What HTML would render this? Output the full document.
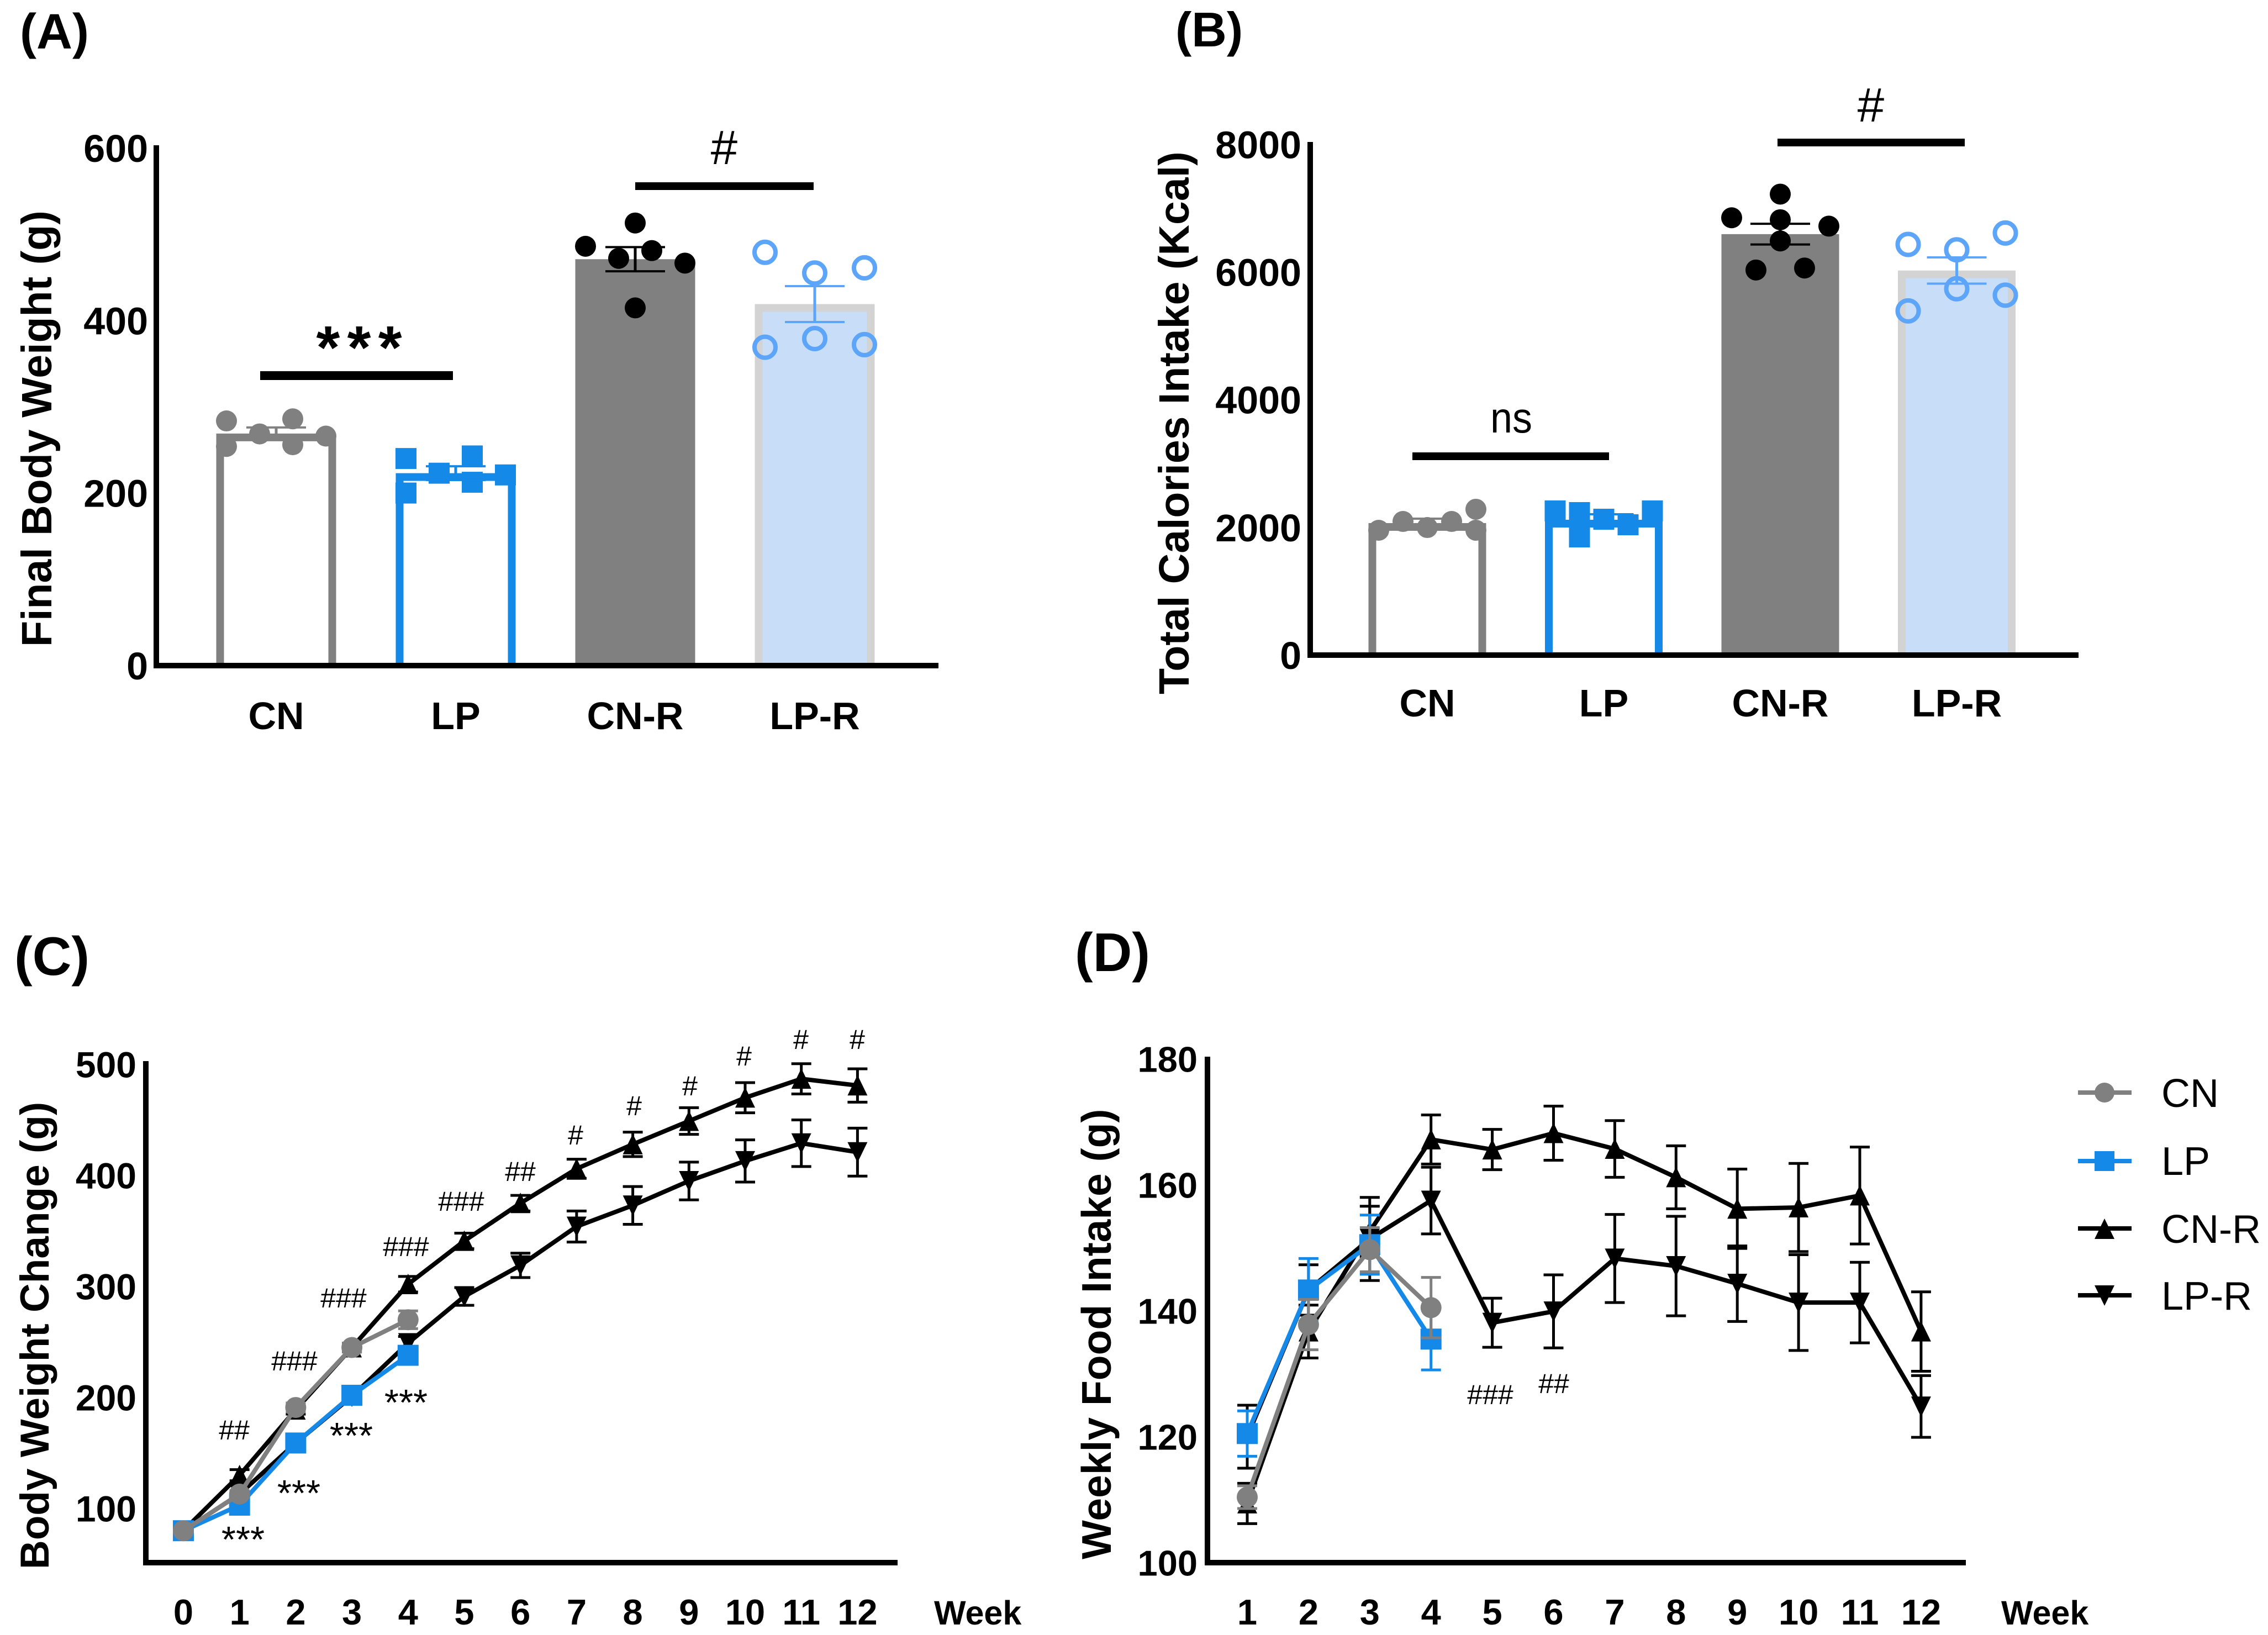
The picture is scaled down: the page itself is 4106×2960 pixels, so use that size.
<!DOCTYPE html>
<html lang="en">
<head>
<meta charset="utf-8">
<title>Body weight and food intake panels</title>
<style>
html,body{margin:0;padding:0;background:#fff;}
svg{display:block;}
text{font-family:"Liberation Sans",Arial,sans-serif;fill:#000;}
.b{font-weight:700;}
</style>
</head>
<body>
<svg id="figure" xmlns="http://www.w3.org/2000/svg" width="4106" height="2960" viewBox="0 0 4106 2960">
<rect x="0" y="0" width="4106" height="2960" fill="#fff"/>

<!-- Panel A static -->
<g id="panelA"></g>
<text class="b" x="36" y="88" font-size="90">(A)</text>
<text class="b" font-size="77" text-anchor="start" transform="translate(93 1171) rotate(-90)">Final Body Weight (g)</text>
<rect x="471" y="672" width="349" height="16" fill="#000"/>
<text class="b" x="650" y="667" font-size="110" text-anchor="middle" textLength="155">***</text>
<rect x="1150" y="330" width="323" height="14" fill="#000"/>
<text x="1311" y="297" font-size="87" text-anchor="middle">#</text>

<!-- Panel B static -->
<g id="panelB"></g>
<text class="b" x="2128" y="84" font-size="88">(B)</text>
<text class="b" font-size="77" text-anchor="start" transform="translate(2152 1257) rotate(-90)">Total Calories Intake (Kcal)</text>
<rect x="2557" y="819" width="356" height="14" fill="#000"/>
<text x="2736" y="783" font-size="78" text-anchor="middle" textLength="76" lengthAdjust="spacingAndGlyphs">ns</text>
<rect x="3218" y="251" width="339" height="14" fill="#000"/>
<text x="3387" y="220" font-size="87" text-anchor="middle">#</text>

<!-- Panel C static -->
<g id="panelC"></g>
<text class="b" x="26" y="1765" font-size="98">(C)</text>
<text class="b" font-size="73" text-anchor="start" transform="translate(88 2841) rotate(-90)">Body Weight Change (g)</text>
<text class="b" x="1691" y="2941" font-size="61">Week</text>
<g font-size="50" text-anchor="middle">
<text x="424" y="2606">##</text><text x="533" y="2481">###</text><text x="622" y="2367">###</text><text x="735" y="2274">###</text><text x="835" y="2192">###</text><text x="942" y="2138">##</text><text x="1042" y="2072">#</text><text x="1148" y="2019">#</text><text x="1249" y="1983">#</text><text x="1347" y="1929">#</text><text x="1450" y="1899">#</text><text x="1552" y="1899">#</text>
</g>
<g font-size="67" text-anchor="middle">
<text x="440" y="2810">***</text><text x="541" y="2726">***</text><text x="636" y="2622">***</text><text x="735" y="2562">***</text>
</g>

<!-- Panel D static -->
<g id="panelD"></g>
<text class="b" x="1946" y="1758" font-size="98">(D)</text>
<text class="b" font-size="75" text-anchor="start" transform="translate(2011 2823) rotate(-90)">Weekly Food Intake (g)</text>
<text class="b" x="3623" y="2941" font-size="61">Week</text>
<g font-size="50" text-anchor="middle">
<text x="2698" y="2542">###</text><text x="2813" y="2522">##</text>
</g>

<!-- Legend -->
<g>
<g>
<line x1="3762" x2="3859" y1="1978" y2="1978" stroke="#808080" stroke-width="8"/>
<circle cx="3810" cy="1978" r="18" fill="#808080"/>
<text x="3913" y="2004" font-size="72">CN</text>
</g>
<g>
<line x1="3762" x2="3859" y1="2102" y2="2102" stroke="#1589e8" stroke-width="8"/>
<rect x="3792" y="2084" width="36" height="36" fill="#1589e8"/>
<text x="3913" y="2127" font-size="72">LP</text>
</g>
<g>
<line x1="3762" x2="3859" y1="2224" y2="2224" stroke="#000" stroke-width="8"/>
<polygon points="3810,2206 3828,2243 3792,2243" fill="#000"/>
<text x="3913" y="2250" font-size="72">CN-R</text>
</g>
<g>
<line x1="3762" x2="3859" y1="2345" y2="2345" stroke="#000" stroke-width="8"/>
<polygon points="3810,2364 3828,2327 3792,2327" fill="#000"/>
<text x="3913" y="2371" font-size="72">LP-R</text>
</g>
</g>
</svg>

<script>
// ---------- Panel A data ----------
const aCategories = ['CN', 'LP', 'CN-R', 'LP-R'];
const aMeans = [269, 223, 471, 419];
const aSems = [7, 8, 14, 20.8];
const aValuesCN = [283.6, 254, 268.5, 286, 256, 266];
const aValuesLP = [240, 200, 223, 243, 212.5, 221];
const aValuesCNR = [486, 472, 513, 481, 466.5, 414.6];
const aValuesLPR = [479, 369, 455, 379, 461, 372];
const aJitterCN = [-3, -3, -1, 1, 1, 3];
const aJitterLP = [-3, -3, -1, 1, 1, 3];
const aJitterCNR = [-3, -1, 0, 1, 3, 0];
const aJitterLPR = [-3, -3, 0, 0, 3, 3];
const aTicks = [0, 200, 400, 600];

// ---------- Panel B data ----------
const bCategories = ['CN', 'LP', 'CN-R', 'LP-R'];
const bMeans = [2067, 2119, 6593, 6023];
const bSems = [70, 87, 162, 205];
const bValuesCN = [1955, 2093, 1998, 2093, 2284, 1955];
const bValuesLP = [2258, 2232, 1851, 2128, 2041, 2258];
const bValuesCNR = [6849, 6031, 7219, 6818, 6486, 6062, 6718];
const bValuesLPR = [6432, 5390, 6347, 5737, 6610, 5637];
const bJitterCN = [-2, -1, 0, 1, 2, 2];
const bJitterLP = [-2, -1, -1, 0, 1, 2];
const bJitterCNR = [-2, -1, 0, 0, 0, 1, 2];
const bJitterLPR = [-2, -2, 0, 0, 2, 2];
const bTicks = [0, 2000, 4000, 6000, 8000];

// ---------- Panel C data ----------
const cWeeks = [0, 1, 2, 3, 4, 5, 6, 7, 8, 9, 10, 11, 12];
const cTicks = [100, 200, 300, 400, 500];
const cCNRValues = [80, 130, 189, 245, 302, 341, 375, 406, 428, 449, 470, 487, 481];
const cCNRErrors = [2, 5, 4, 4, 7, 7, 7, 8.6, 11, 12, 13.6, 13.6, 15];
const cLPRValues = [80, 113, 159, 201, 249, 291, 319, 354, 373, 395, 413, 429, 421];
const cLPRErrors = [2, 3, 3, 5, 6, 8, 11, 14, 17, 17, 19, 21, 21.6];
const cCNWeeks = [0, 1, 2, 3, 4];
const cCNValues = [80, 113, 191, 245, 270];
const cCNErrors = [2, 3, 4, 4, 8];
const cLPWeeks = [0, 1, 2, 3, 4];
const cLPValues = [80, 103, 159, 202, 238];
const cLPErrors = [2, 3, 3, 4, 5];

// ---------- Panel D data ----------
const dWeeks = [1, 2, 3, 4, 5, 6, 7, 8, 9, 10, 11, 12];
const dTicks = [100, 120, 140, 160, 180];
const dCNRValues = [109.4, 136.7, 152.6, 167.2, 165.6, 168.2, 165.7, 161.2, 156.2, 156.4, 158.3, 136.7];
const dCNRErrors = [3.2, 4.2, 4, 3.9, 3.2, 4.3, 4.5, 5, 6.3, 7, 7.7, 6.3];
const dLPRValues = [120, 143.3, 151.4, 157.5, 138.1, 139.9, 148.3, 147.1, 144.3, 141.3, 141.3, 124.8];
const dLPRErrors = [5, 4, 6.6, 5.3, 3.9, 5.8, 7, 7.9, 6, 7.6, 6.4, 4.9];
const dCNWeeks = [1, 2, 3, 4];
const dCNValues = [110.4, 137.8, 149.7, 140.5];
const dCNErrors = [1.8, 4, 3.5, 4.8];
const dLPWeeks = [1, 2, 3, 4];
const dLPValues = [120.5, 143.3, 150.5, 135.5];
const dLPErrors = [3.6, 5, 4.7, 4.9];

const NS = 'http://www.w3.org/2000/svg';
const GRAY = '#808080', BLUE = '#1589e8', BLACK = '#000000', HOLLOW = '#5ca5f8', LIGHT = '#c8ddf7', EDGE = '#d3d3d3';

function make(parent, tag, attrs, content) {
  const el = document.createElementNS(NS, tag);
  for (const k in attrs) el.setAttribute(k, attrs[k]);
  if (content !== undefined) el.textContent = content;
  parent.appendChild(el);
  return el;
}

function drawAxes(g, ax) {
  const yAxis = make(g, 'rect', {x: ax.x0 - 5, y: ax.top, width: 10, height: ax.y0 - ax.top + 5, fill: BLACK});
  
  
  const xAxis = make(g, 'rect', {x: ax.x0 - 5, y: ax.y0 - 5, width: ax.right - ax.x0 + 5, height: 10, fill: BLACK});
  
  
}

function drawYTicks(g, ticks, yFn, right, size) {
  ticks.forEach(function (t) {
    const label = make(g, 'text', {x: right, y: yFn(t) + size * 0.358, 'font-size': size, 'font-weight': 700, 'text-anchor': 'end'}, String(t));
    
    
  });
}

function drawError(g, x, yHi, yLo, color, half, capWidth) {
  const stem = make(g, 'line', {x1: x, x2: x, y1: yHi, y2: yLo, stroke: color, 'stroke-width': 5});
  
  
  const capTop = make(g, 'line', {x1: x - half, x2: x + half, y1: yHi, y2: yHi, stroke: color, 'stroke-width': capWidth});
  
  
  const capBottom = make(g, 'line', {x1: x - half, x2: x + half, y1: yLo, y2: yLo, stroke: color, 'stroke-width': capWidth});
  
  
}

function drawMarker(g, kind, x, y, color) {
  let m;
  if (kind === 'circle') {
    m = make(g, 'circle', {cx: x, cy: y, r: 19, fill: color});
  } else if (kind === 'square') {
    m = make(g, 'rect', {x: x - 19, y: y - 19, width: 38, height: 38, fill: color});
  } else if (kind === 'up') {
    m = make(g, 'polygon', {points: x + ',' + (y - 19) + ' ' + (x + 18) + ',' + (y + 18) + ' ' + (x - 18) + ',' + (y + 18), fill: color});
  } else {
    m = make(g, 'polygon', {points: x + ',' + (y + 19) + ' ' + (x + 18) + ',' + (y - 18) + ' ' + (x - 18) + ',' + (y - 18), fill: color});
  }
  
  
}

function drawBarPanel(g, cfg) {
  const yFn = function (v) { return cfg.y0 - v * cfg.pxPerUnit; };
  const xFn = function (i) { return cfg.xStart + i * cfg.xStep; };
  const w = cfg.barWidth, bw = 14;
  const styles = [
    {edge: GRAY, fill: '#ffffff', kind: 'circle', mark: GRAY, err: GRAY},
    {edge: BLUE, fill: '#ffffff', kind: 'square', mark: BLUE, err: BLUE},
    {edge: GRAY, fill: GRAY, kind: 'circle', mark: BLACK, err: BLACK},
    {edge: EDGE, fill: LIGHT, kind: 'hollow', mark: HOLLOW, err: HOLLOW}
  ];
  cfg.categories.forEach(function (cat, i) {
    const s = styles[i], cx = xFn(i), top = yFn(cfg.means[i]);
    const bar = make(g, 'path', {
      d: 'M' + (cx - w / 2 + bw / 2) + ' ' + cfg.y0 + 'V' + (top + bw / 2) + 'H' + (cx + w / 2 - bw / 2) + 'V' + cfg.y0,
      fill: s.fill, stroke: s.edge, 'stroke-width': bw
    });
    
    
    const vals = cfg.values[i], jit = cfg.jitter[i];
    vals.forEach(function (v, k) {
      const px = cx + jit[k] * cfg.jitterPx, py = yFn(v);
      if (s.kind === 'hollow') {
        const ring = make(g, 'circle', {cx: px, cy: py, r: 19, fill: 'none', stroke: s.mark, 'stroke-width': 8});
        
        
      } else {
        drawMarker(g, s.kind, px, py, s.mark);
      }
    });
    drawError(g, cx, yFn(cfg.means[i] + cfg.sems[i]), yFn(cfg.means[i] - cfg.sems[i]), s.err, 54, 4);
    const label = make(g, 'text', {x: cx, y: cfg.labelY, 'font-size': 70, 'font-weight': 700, 'text-anchor': 'middle'}, cat);
    
    
  });
  drawAxes(g, {x0: cfg.x0, top: cfg.top, y0: cfg.y0, right: cfg.right});
  drawYTicks(g, cfg.ticks, yFn, cfg.tickRight, 70);
}

function drawSeries(g, weeks, values, errors, xFn, yFn, color, kind, name) {
  const line = make(g, 'polyline', {
    points: weeks.map(function (w, i) { return xFn(w) + ',' + yFn(values[i]); }).join(' '),
    fill: 'none', stroke: color, 'stroke-width': 8, 'stroke-linejoin': 'round'
  });
  
  
  weeks.forEach(function (w, i) {
    drawError(g, xFn(w), yFn(values[i] + errors[i]), yFn(values[i] - errors[i]), color, 18, 5);
    drawMarker(g, kind, xFn(w), yFn(values[i]), color);
  });
}

function drawXTicks(g, weeks, xFn) {
  weeks.forEach(function (w) {
    const label = make(g, 'text', {x: xFn(w), y: 2941, 'font-size': 65, 'font-weight': 700, 'text-anchor': 'middle'}, String(w));
    
    
  });
}

// Panel A
drawBarPanel(document.getElementById('panelA'), {
  categories: aCategories, means: aMeans, sems: aSems,
  values: [aValuesCN, aValuesLP, aValuesCNR, aValuesLPR],
  jitter: [aJitterCN, aJitterLP, aJitterCNR, aJitterLPR],
  ticks: aTicks, y0: 1205, pxPerUnit: 1.562, xStart: 500, xStep: 325, barWidth: 217,
  jitterPx: 30, labelY: 1320, x0: 283, top: 263, right: 1699, tickRight: 268
});

// Panel B
drawBarPanel(document.getElementById('panelB'), {
  categories: bCategories, means: bMeans, sems: bSems,
  values: [bValuesCN, bValuesLP, bValuesCNR, bValuesLPR],
  jitter: [bJitterCN, bJitterLP, bJitterCNR, bJitterLPR],
  ticks: bTicks, y0: 1186, pxPerUnit: 0.1156, xStart: 2584, xStep: 319.5, barWidth: 213,
  jitterPx: 44, labelY: 1297, x0: 2372, top: 257, right: 3763, tickRight: 2356
});

// Panel C
(function () {
  const g = document.getElementById('panelC');
  const xFn = function (w) { return 332 + w * 101.7; };
  const yFn = function (v) { return 2731 - (v - 100) * 2.01; };
  drawSeries(g, cWeeks, cCNRValues, cCNRErrors, xFn, yFn, BLACK, 'up', 'cn-r');
  drawSeries(g, cWeeks, cLPRValues, cLPRErrors, xFn, yFn, BLACK, 'down', 'lp-r');
  drawSeries(g, cLPWeeks, cLPValues, cLPErrors, xFn, yFn, BLUE, 'square', 'lp');
  drawSeries(g, cCNWeeks, cCNValues, cCNErrors, xFn, yFn, GRAY, 'circle', 'cn');
  drawAxes(g, {x0: 264, top: 1921, y0: 2829, right: 1625});
  drawYTicks(g, cTicks, yFn, 247, 66);
  drawXTicks(g, cWeeks, xFn);
})();

// Panel D
(function () {
  const g = document.getElementById('panelD');
  const xFn = function (w) { return 2258 + (w - 1) * 110.9; };
  const yFn = function (v) { return 2829 - (v - 100) * 11.4; };
  drawSeries(g, dWeeks, dLPRValues, dLPRErrors, xFn, yFn, BLACK, 'down', 'lp-r');
  drawSeries(g, dWeeks, dCNRValues, dCNRErrors, xFn, yFn, BLACK, 'up', 'cn-r');
  drawSeries(g, dLPWeeks, dLPValues, dLPErrors, xFn, yFn, BLUE, 'square', 'lp');
  drawSeries(g, dCNWeeks, dCNValues, dCNErrors, xFn, yFn, GRAY, 'circle', 'cn');
  drawAxes(g, {x0: 2186, top: 1913, y0: 2829, right: 3559});
  drawYTicks(g, dTicks, yFn, 2168, 65);
  drawXTicks(g, dWeeks, xFn);
})();
</script>
</body>
</html>
